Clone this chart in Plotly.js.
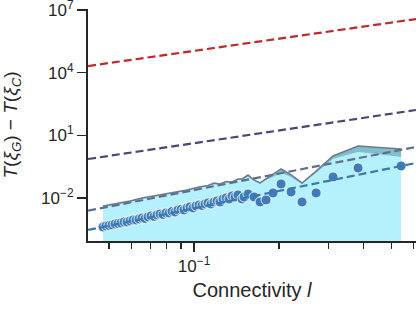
<!DOCTYPE html>
<html>
<head>
<meta charset="utf-8">
<script src="https://cdn.plot.ly/plotly-3.0.1.min.js"></script>
<style>html,body{margin:0;padding:0;background:#fff;}#chart{width:416px;height:316px;}</style>
</head>
<body>
<div id="chart"></div>
<script>
// Scatter data: connectivity l vs T(xi_G) - T(xi_C)
const connX = [0.04755,0.04873,0.04995,0.05119,0.05247,0.05378,0.05511,0.05648,0.05788,0.05932,
  0.06079,0.06230,0.06383,0.06541,0.06703,0.06870,0.07040,0.07216,0.07393,0.07578,
  0.07766,0.07958,0.08155,0.08357,0.08565,0.08777,0.08995,0.09216,0.09445,0.09678,
  0.09919,0.1016,0.1042,0.1068,0.1094,0.1121,0.1149,0.1177,0.1207,0.1236,
  0.1267,0.1299,0.1331,0.1364,0.1398,0.1432,
  0.1480,0.1504,0.1554,0.1632,0.1714,0.1800,0.1906,0.2035,0.2208,0.2415,0.2709,0.3111,0.3815,0.5420];
const gapY = [4.09e-4,4.57e-4,4.83e-4,5.10e-4,5.70e-4,6.03e-4,6.37e-4,7.10e-4,7.10e-4,7.93e-4,
  8.85e-4,8.85e-4,9.89e-4,1.104e-3,1.045e-3,1.233e-3,1.377e-3,1.303e-3,1.538e-3,1.718e-3,
  1.626e-3,1.915e-3,1.915e-3,2.26e-3,2.14e-3,2.67e-3,2.82e-3,2.67e-3,3.33e-3,3.72e-3,
  3.33e-3,4.15e-3,4.62e-3,4.38e-3,5.16e-3,5.77e-3,5.16e-3,6.44e-3,7.19e-3,6.44e-3,
  8.97e-3,1.002e-2,8.97e-3,1.248e-2,1.117e-2,1.393e-2,
  8.97e-3,1.117e-2,1.556e-2,1.117e-2,6.44e-3,8.03e-3,1.738e-2,4.69e-2,1.941e-2,6.44e-3,1.738e-2,0.1014,0.2735,0.340];

// Shaded band
const bandX = [0.04755,0.05378,0.05932,0.06541,0.07216,0.07958,0.08565,0.09445,0.1042,0.1121,
  0.1177,0.1236,0.1299,0.1364,0.1432,0.1480,0.1554,0.1632,0.1714,0.1800,
  0.1906,0.2035,0.2208,0.2415,0.2709,0.3111,0.3815,0.5420];
const bandLower = [3.713e-3,4.89e-3,6.44e-3,8.97e-3,1.117e-2,1.472e-2,1.737e-2,2.165e-2,3.014e-2,3.556e-2,
  4.43e-2,4.195e-2,5.53e-2,5.23e-2,7.28e-2,7.28e-2,0.1013,6.52e-2,4.685e-2,7.28e-2,
  0.1013,0.1575,0.1013,4.685e-2,0.1575,0.737,1.594,0.919];
const bandUpper = [4.145e-3,5.46e-3,7.19e-3,1.001e-2,1.248e-2,1.644e-2,1.940e-2,2.418e-2,3.366e-2,3.971e-2,
  5.23e-2,4.685e-2,6.17e-2,5.84e-2,8.13e-2,8.13e-2,0.1263,7.28e-2,5.23e-2,8.13e-2,
  0.1263,0.2447,0.1263,5.23e-2,0.1963,1.026,3.088,2.219];

// Reference power-law lines (values at the axis ends)
const lineX = [0.0421, 0.612];
const lineRed = [2.08e4, 3.71e6];
const linePurple = [0.736, 163];
const lineGray = [2.47e-3, 2.77];
const lineBlue = [2.94e-4, 0.474];

const yTickVals = [1e-2, 1e1, 1e4, 1e7];
const yTickText = ['10<sup>−2</sup>', '10<sup>1</sup>', '10<sup>4</sup>', '10<sup>7</sup>'];
const xTickVals = [0.1];
const xTickText = ['10<sup>−1</sup>'];
const xMinorVals = [0.05,0.06,0.07,0.08,0.09,0.2,0.3,0.4,0.5,0.6];

const dash = '8px,4px';
const traces = [
  {x: bandX, y: bandLower, type: 'scatter', mode: 'lines', fill: 'tozeroy',
   fillcolor: 'rgb(181,240,253)', line: {width: 0}, hoverinfo: 'skip'},
  {x: bandX, y: bandUpper, type: 'scatter', mode: 'lines', fill: 'tonexty',
   fillcolor: 'rgb(128,190,204)', line: {width: 1.5, color: 'rgb(108,122,143)'}, hoverinfo: 'skip'},
  {x: connX, y: gapY, type: 'scatter', mode: 'markers',
   marker: {size: 10, color: 'rgb(62,125,185)', line: {width: 0.8, color: 'white'}}},
  {x: lineX, y: lineRed, type: 'scatter', mode: 'lines', line: {color: 'rgb(193,40,45)', width: 2.2, dash: dash}},
  {x: lineX, y: linePurple, type: 'scatter', mode: 'lines', line: {color: 'rgb(76,70,118)', width: 2.2, dash: dash}},
  {x: lineX, y: lineGray, type: 'scatter', mode: 'lines', line: {color: 'rgb(96,112,140)', width: 2.2, dash: dash}},
  {x: lineX, y: lineBlue, type: 'scatter', mode: 'lines', line: {color: 'rgb(58,120,178)', width: 2.2, dash: dash}}
];

const fontFam = 'Liberation Sans, Arial, sans-serif';
const layout = {
  width: 416, height: 316,
  margin: {l: 88, r: 0, t: 9, b: 75},
  paper_bgcolor: 'white', plot_bgcolor: 'white',
  showlegend: false,
  font: {family: fontFam, color: '#262626', size: 17},
  xaxis: {
    type: 'log', range: [-1.376, -0.213],
    showgrid: false, zeroline: false,
    showline: true, linecolor: '#262626', linewidth: 2,
    ticks: 'outside', ticklen: 9, tickwidth: 1.5, tickcolor: '#262626',
    tickmode: 'array', tickvals: xTickVals, ticktext: xTickText,
    tickfont: {size: 17},
    minor: {ticks: 'outside', ticklen: 5.5, tickwidth: 1.3, tickcolor: '#262626',
            tickmode: 'array', tickvals: xMinorVals, showgrid: false},
    title: {text: 'Connectivity <i>l</i>', font: {size: 20}, standoff: 8}
  },
  yaxis: {
    type: 'log', range: [-4.06, 7.05],
    showgrid: false, zeroline: false,
    showline: true, linecolor: '#262626', linewidth: 2,
    ticks: 'outside', ticklen: 9, tickwidth: 1.5, tickcolor: '#262626',
    tickmode: 'array', tickvals: yTickVals, ticktext: yTickText,
    tickfont: {size: 17}, ticklabeloverflow: 'allow',
    title: {text: '<i>T</i>(<i>ξ</i><sub><i>G</i></sub>) − <i>T</i>(<i>ξ</i><sub><i>C</i></sub>)', font: {size: 19}, standoff: 20}
  }
};

Plotly.newPlot('chart', traces, layout, {displayModeBar: false, staticPlot: true});
</script>
</body>
</html>
